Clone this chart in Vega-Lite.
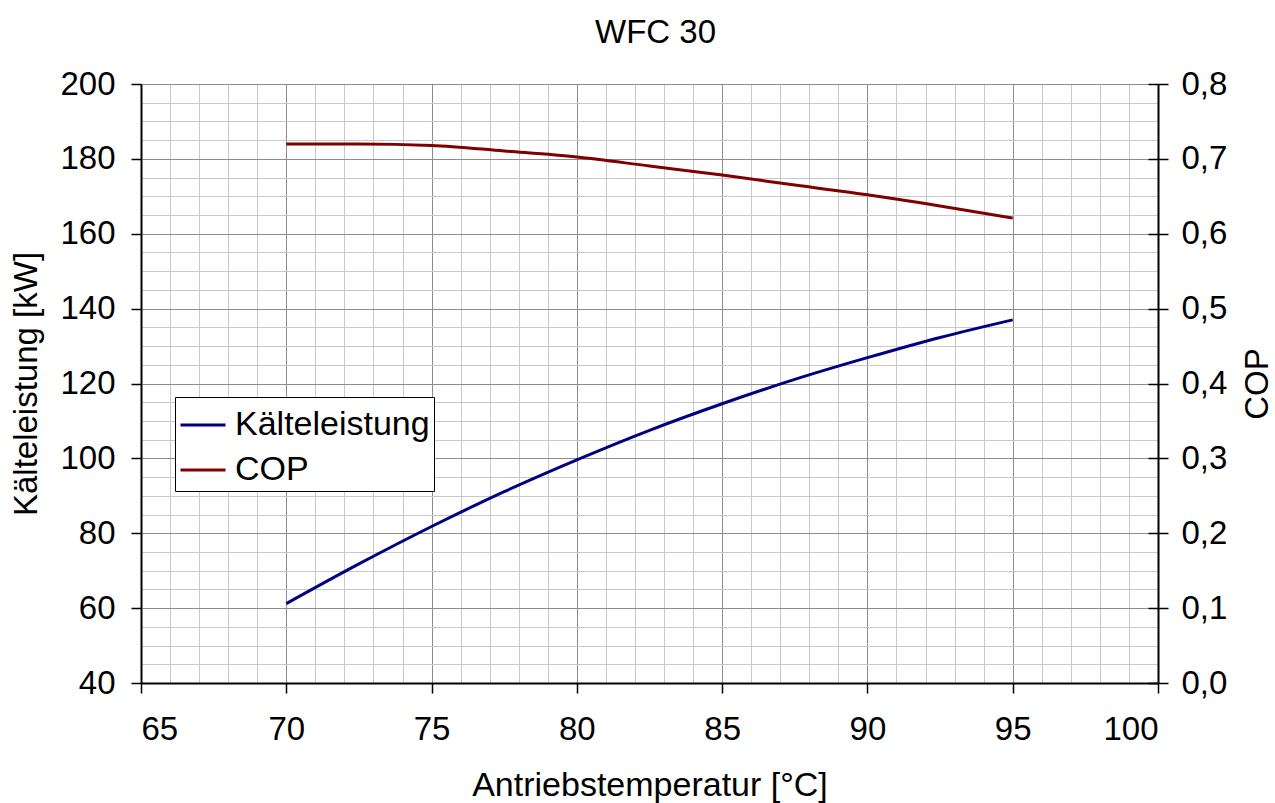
{
  "$schema": "https://vega.github.io/schema/vega-lite/v6.json",
  "width": 1017,
  "height": 599,
  "autosize": {"type": "none"},
  "padding": {"left": 141, "top": 84, "right": 117, "bottom": 120},
  "background": "white",
  "title": {"text": "WFC 30", "font": "Liberation Sans", "fontSize": 33, "fontWeight": "normal", "color": "black", "anchor": "middle", "baseline": "bottom", "offset": 20, "dy": 35, "dx": 6},
  "data": {"values": [
    {"T": 70, "K": 61.2, "COP": 0.720},
    {"T": 72.5, "K": 71.8, "COP": 0.720},
    {"T": 75, "K": 81.8, "COP": 0.718},
    {"T": 77.5, "K": 91.1, "COP": 0.7105},
    {"T": 80, "K": 99.6, "COP": 0.7025},
    {"T": 82.5, "K": 107.5, "COP": 0.6905},
    {"T": 85, "K": 114.6, "COP": 0.6785},
    {"T": 87.5, "K": 121.1, "COP": 0.665},
    {"T": 90, "K": 126.9, "COP": 0.652},
    {"T": 92.5, "K": 132.3, "COP": 0.637},
    {"T": 95, "K": 137.0, "COP": 0.621}
  ]},
  "layer": [
    {
      "mark": {"type": "line", "strokeOpacity": 0},
      "encoding": {
        "x": {"field": "T", "type": "quantitative", "scale": {"domain": [65, 100], "nice": false, "zero": false},
          "axis": {"orient": "bottom", "values": [65,66,67,68,69,70,71,72,73,74,75,76,77,78,79,80,81,82,83,84,85,86,87,88,89,90,91,92,93,94,95,96,97,98,99,100], "grid": true, "gridColor": "#c8c8c8", "gridWidth": 1, "labels": false, "ticks": false, "domain": false, "title": null, "minExtent": 0, "maxExtent": 0}},
        "y": {"field": "K", "type": "quantitative", "scale": {"domain": [40, 200], "nice": false, "zero": false},
          "axis": {"orient": "left", "values": [40,45,50,55,60,65,70,75,80,85,90,95,100,105,110,115,120,125,130,135,140,145,150,155,160,165,170,175,180,185,190,195,200], "grid": true, "gridColor": "#c8c8c8", "gridWidth": 1, "labels": false, "ticks": false, "domain": false, "title": null, "minExtent": 0, "maxExtent": 0}}
      }
    },
    {
      "mark": {"type": "line", "strokeWidth": 3, "interpolate": "monotone"},
      "encoding": {
        "x": {"field": "T", "type": "quantitative", "scale": {"domain": [65, 100], "nice": false, "zero": false},
          "axis": {"orient": "bottom", "values": [65,70,75,80,85,90,95,100], "grid": true, "gridColor": "#8c8c8c", "gridWidth": 1, "title": "Antriebstemperatur [°C]", "titleFontSize": 34, "labelPadding": 20, "titlePadding": 22}},
        "y": {"field": "K", "type": "quantitative", "scale": {"domain": [40, 200], "nice": false, "zero": false},
          "axis": {"orient": "left", "values": [40,60,80,100,120,140,160,180,200], "grid": true, "gridColor": "#8c8c8c", "gridWidth": 1, "title": "Kälteleistung [kW]", "labelPadding": 16, "titlePadding": 16}},
        "color": {"datum": "Kälteleistung", "type": "nominal",
          "scale": {"domain": ["Kälteleistung", "COP"], "range": ["#000080", "#800000"]},
          "legend": {"orient": "none", "legendX": 34, "legendY": 313, "title": null, "fillColor": "white", "strokeColor": "black", "padding": 4, "symbolType": "stroke", "symbolSize": 2025, "symbolStrokeWidth": 3, "labelFontSize": 34, "labelFont": "Liberation Sans", "labelColor": "black", "labelOffset": 8, "labelLimit": 400, "rowPadding": 4, "cornerRadius": 0}}
      }
    },
    {
      "mark": {"type": "line", "strokeWidth": 3, "interpolate": "monotone"},
      "encoding": {
        "x": {"field": "T", "type": "quantitative", "scale": {"domain": [65, 100], "nice": false, "zero": false}, "axis": null},
        "y": {"field": "COP", "type": "quantitative", "scale": {"domain": [0, 0.8], "nice": false, "zero": false},
          "axis": {"orient": "right", "values": [0,0.1,0.2,0.3,0.4,0.5,0.6,0.7,0.8], "format": ".1f", "labelExpr": "replace(datum.label, '.', ',')", "grid": false, "title": "COP", "titleAngle": 270, "labelPadding": 13, "titlePadding": 48}},
        "color": {"datum": "COP", "type": "nominal"}
      }
    },
    {
      "mark": {"type": "line", "strokeOpacity": 0},
      "encoding": {
        "x": {"field": "T", "type": "quantitative", "scale": {"domain": [65, 100], "nice": false, "zero": false}, "axis": null},
        "y": {"field": "K", "type": "quantitative", "scale": {"domain": [40, 200], "nice": false, "zero": false},
          "axis": {"orient": "left", "offset": -1017, "values": [40,60,80,100,120,140,160,180,200], "grid": false, "labels": false, "domain": false, "ticks": true, "title": null, "minExtent": 0, "maxExtent": 0}}
      }
    }
  ],
  "resolve": {"scale": {"y": "independent"}, "axis": {"x": "independent", "y": "independent"}},
  "config": {
    "view": {"stroke": null},
    "axis": {
      "labelFont": "Liberation Sans", "titleFont": "Liberation Sans",
      "labelFontSize": 33, "titleFontSize": 33, "titleFontWeight": "normal",
      "labelColor": "black", "titleColor": "black",
      "domainColor": "black", "domainWidth": 2,
      "tickColor": "black", "tickWidth": 1.5, "tickSize": 10
    }
  }
}
